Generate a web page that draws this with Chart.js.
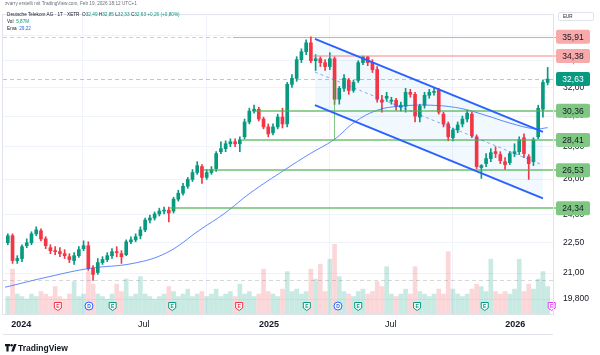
<!DOCTYPE html>
<html><head><meta charset="utf-8">
<script src="https://cdn.jsdelivr.net/npm/chart.js@4"></script>
<style>
html,body{margin:0;padding:0;background:#fff;}
#wrap{position:relative;width:600px;height:355px;overflow:hidden;font-family:"Liberation Sans",Arial,sans-serif;}
canvas{position:absolute;left:0;top:0;}
.t{position:absolute;white-space:nowrap;color:#131722;line-height:1;}
.g{color:#089981;}
</style></head><body>
<div id="wrap">
<canvas id="c" width="600" height="355"></canvas>
<div class="t" style="left:5px;top:2px;font-size:4.7px;color:#6a6d78">zvarry erstellt mit TradingView.com, Feb 19, 2026 18:12 UTC+1</div>
<div class="t" style="left:7px;top:13px;font-size:4.7px">Deutsche Telekom AG · 1T · XETR &nbsp;O<span class="g">32,49</span> H<span class="g">32,85</span> L<span class="g">32,33</span> C<span class="g">32,63</span> <span class="g">+0,26 (+0,80%)</span></div>
<div class="t" style="left:7px;top:20px;font-size:4.7px">Vol &nbsp;<span class="g">5,87M</span></div>
<div class="t" style="left:7px;top:27px;font-size:4.7px">Ema &nbsp;<span style="color:#2962ff">29,22</span></div>
<div class="t" style="left:558px;top:12px;width:36px;height:9px;border:1px solid #e0e3eb;border-radius:2px;font-size:4.5px;color:#131722;padding:2px 0 0 4px;box-sizing:border-box">EUR</div>
<svg style="position:absolute;left:5px;top:344px" width="12" height="8" viewBox="0 0 12 8"><path d="M0 0H5V2.2H3.6V7.5H1.4V2.2H0Z M9 0H11.6L8.8 7.5H6.2Z" fill="#131722"/><circle cx="6.6" cy="1.3" r="1.2" fill="#131722"/></svg>
<div class="t" style="left:18px;top:344px;font-size:8.5px;font-weight:bold;color:#131722">TradingView</div>
</div>
<script>
// ---------- DATA ----------
const firstWeek = '2023-12-11';
const open  = [22.50,22.86,21.61,21.71,22.35,22.50,22.96,23.12,22.70,22.25,22.10,22.05,21.95,21.80,21.61,21.85,22.20,22.35,21.23,21.03,21.51,21.66,21.85,22.05,21.95,21.90,22.55,22.65,22.86,23.17,23.69,23.80,24.02,24.18,24.23,24.18,24.84,25.18,25.58,25.98,26.39,26.75,26.10,26.39,26.63,27.67,27.86,28.17,28.30,28.17,28.62,29.60,30.34,30.47,29.80,29.27,28.88,29.27,29.93,29.47,32.24,32.68,34.10,34.72,35.43,34.02,34.17,33.87,33.57,34.17,31.17,31.95,32.53,31.80,32.53,33.87,34.33,33.87,33.34,31.10,31.24,31.03,31.10,30.61,30.68,31.66,31.52,29.93,30.75,31.45,31.66,31.80,30.13,29.47,28.56,29.07,29.47,29.80,30.13,28.62,26.69,26.93,27.24,27.67,27.49,27.05,26.99,27.55,27.67,28.56,27.36,27.05,28.62,30.47,32.38];
const high  = [22.96,22.96,21.85,22.40,22.70,23.07,23.33,23.22,22.81,22.40,22.30,22.25,22.15,21.95,22.00,22.30,22.60,22.55,21.37,21.71,21.80,22.00,22.20,22.30,22.10,22.65,22.81,22.96,23.33,23.80,23.96,24.13,24.34,24.40,24.40,24.95,25.35,25.75,26.10,26.57,27.05,26.87,26.57,26.75,27.67,28.30,28.36,28.49,28.49,28.62,29.80,30.54,30.75,30.61,29.93,29.47,29.47,30.13,30.54,32.38,32.97,34.33,34.95,35.67,35.91,34.49,34.33,34.10,34.64,34.33,32.09,32.97,32.68,32.53,34.02,34.38,34.36,34.10,33.57,31.45,31.66,31.31,31.24,30.96,31.95,31.88,31.66,30.82,31.66,31.88,32.02,31.95,30.27,29.60,29.20,29.60,30.00,30.40,30.27,28.75,26.87,27.55,27.86,27.98,27.67,27.30,27.67,28.17,28.62,28.81,27.49,28.56,30.75,32.53,33.50];
const low   = [22.40,21.47,21.47,21.56,22.25,22.40,22.86,22.60,22.20,21.95,21.90,21.80,21.71,21.51,21.42,21.76,22.10,21.13,20.66,20.94,21.42,21.56,21.71,21.80,21.47,21.85,22.45,22.55,22.70,23.07,23.54,23.69,23.91,24.02,23.59,24.07,24.73,25.07,25.46,25.86,26.28,25.75,25.98,26.28,26.45,27.55,27.67,27.98,27.98,27.67,28.49,29.47,30.20,29.67,29.14,28.62,28.75,29.14,29.20,29.27,32.02,32.46,33.87,34.49,33.87,33.27,33.57,33.27,33.34,30.80,30.82,31.73,31.52,31.66,32.38,33.72,33.64,33.12,30.96,30.27,31.03,30.82,30.40,30.34,30.27,31.31,29.60,29.60,30.54,31.24,31.45,30.13,29.27,28.36,28.36,28.88,29.27,29.60,28.56,26.63,26.04,26.75,27.05,27.30,26.93,26.57,26.87,27.36,27.49,27.30,25.98,26.81,28.50,29.93,32.20];
const close = [22.86,21.61,21.71,22.30,22.50,22.96,23.17,22.70,22.35,22.10,22.05,21.95,21.85,21.66,21.85,22.15,22.35,21.23,20.94,21.51,21.66,21.85,22.05,22.00,21.80,22.55,22.65,22.81,23.17,23.69,23.80,24.02,24.18,24.23,24.07,24.84,25.18,25.58,25.98,26.39,26.81,26.10,26.39,26.57,27.55,27.86,28.17,28.30,28.17,28.43,29.60,30.34,30.47,29.80,29.27,28.81,29.27,29.93,29.47,32.24,32.68,34.10,34.72,35.43,34.02,34.17,33.87,33.57,34.17,31.17,31.95,32.68,31.80,32.38,33.87,34.33,33.87,33.34,31.17,30.96,31.38,31.10,30.68,30.75,31.66,31.52,30.00,30.68,31.45,31.66,31.73,30.27,29.47,28.62,29.07,29.40,29.80,30.20,28.68,26.75,26.81,27.24,27.61,27.55,27.11,26.87,27.55,27.67,28.43,27.55,26.93,28.43,30.54,32.38,32.63];
const volume = [7,18,8,7,6,8,7,9,8,7,11,7,6,8,13,7,8,17,12,8,7,6,8,12,9,14,7,8,15,8,7,6,7,8,11,9,7,8,10,7,8,9,7,8,10,7,8,9,7,12,8,9,7,8,18,9,8,7,10,17,9,10,8,9,18,14,20,9,22,28,15,9,8,7,9,10,8,9,13,11,19,8,7,8,10,8,19,9,8,7,8,10,8,25,10,8,7,8,10,12,11,9,22,9,8,9,8,10,22,9,12,10,14,17,11];

const emaDates  = ['2023-12-10','2024-02-14','2024-04-13','2024-06-16','2024-08-05','2024-09-23','2024-10-30','2024-12-06','2025-01-27','2025-03-05','2025-04-09','2025-05-10','2025-06-12','2025-07-16','2025-08-29','2025-10-12','2025-11-18','2025-12-25','2026-01-31','2026-02-19'];
const emaValues = [20.34,20.84,21.23,21.47,22.00,23.17,24.07,25.18,26.57,27.55,28.43,29.60,30.40,30.68,30.75,30.54,30.07,29.53,29.14,29.22];

const levelValues = [35.91, 34.38, 30.36, 28.41, 26.53, 24.34];
const levelFrom   = ['2024-11-11','2025-03-08','2024-12-13','2024-11-24','2024-09-28','2024-08-10'];
const levelLabels = ['35,91','34,38','30,36','28,41','26,53','24,34'];
const lastPrice = 32.63, lastLabel = '32,63';
const periodHigh = 35.91, periodLow = 20.66;

const channelDates = ['2025-03-12','2026-02-12'];
const channelUpper = [35.75, 28.94];
const channelLower = [30.75, 24.89];
const markerDate = '2025-04-09', markerRange = [32.63, 28.41];

const eventDates = ['2024-02-26','2024-04-12','2024-05-17','2024-08-13','2024-11-20','2025-02-28','2025-04-15','2025-05-15','2025-08-10','2025-11-18','2026-02-25'];
const eventKinds = ['E','D','E','E','E','E','D','E','E','E','E'];
const eventTones = ['miss','div','beat','beat','miss','beat','div','beat','beat','beat','next'];

const xTickDates  = ['2024-01-03','2024-07-02','2025-01-03','2025-07-02','2026-01-02'];
const xTickLabels = ['2024','Jul','2025','Jul','2026'];
const yTicks      = [19.8, 21, 22.5, 24, 26, 28, 30, 32, 34, 36];
const yTickLabels = ['19,800','21,00','22,50','24,00','26,00','28,00','30,00','32,00','34,00','36,00'];

// ---------- BUILD ----------
const dayOf = s => Math.round((Date.parse(s) - Date.parse('2024-01-01')) / 86400000);
const xs = open.map((_, i) => dayOf(firstWeek) + 7 * i + 3);
const UP = '#089981', DOWN = '#f23645';
const isUp = open.map((o, i) => close[i] >= o);
const candleCol = isUp.map(u => u ? UP : DOWN);
const volCol = isUp.map(u => u ? 'rgba(8,153,129,0.22)' : 'rgba(242,54,69,0.2)');
const FONT = '"Liberation Sans", Arial, sans-serif';
Chart.defaults.font.family = FONT;

const drawings = {
  id: 'drawings',
  beforeDatasetsDraw(chart) {
    const {ctx, chartArea: a, scales: {x, y}} = chart;
    ctx.save();
    ctx.beginPath(); ctx.rect(a.left, a.top, a.right - a.left, a.bottom - a.top); ctx.clip();
    const x1 = x.getPixelForValue(dayOf(channelDates[0])), x2 = x.getPixelForValue(dayOf(channelDates[1]));
    ctx.fillStyle = 'rgba(33,150,243,0.06)';
    ctx.beginPath();
    ctx.moveTo(x1, y.getPixelForValue(channelUpper[0]));
    ctx.lineTo(x2, y.getPixelForValue(channelUpper[1]));
    ctx.lineTo(x2, y.getPixelForValue(channelLower[1]));
    ctx.lineTo(x1, y.getPixelForValue(channelLower[0]));
    ctx.closePath(); ctx.fill();
    ctx.restore();
  },
  afterDatasetsDraw(chart) {
    const {ctx, chartArea: a, scales: {x, y}} = chart;
    ctx.save();
    ctx.beginPath(); ctx.rect(a.left, a.top, a.right - a.left + 4, a.bottom - a.top); ctx.clip();
    const hline = (v, from, to, color, w, dash) => {
      const py = Math.round(y.getPixelForValue(v)) + (w % 2 ? 0.5 : 0);
      ctx.strokeStyle = color; ctx.lineWidth = w; ctx.setLineDash(dash || []);
      ctx.beginPath(); ctx.moveTo(from, py); ctx.lineTo(to, py); ctx.stroke();
    };
    const redStart = x.getPixelForValue(dayOf(levelFrom[0]));
    hline(periodHigh, a.left, redStart, 'rgba(120,123,134,0.35)', 1, [4, 3]);
    hline(periodLow, a.left, a.right, 'rgba(120,123,134,0.3)', 1, [4, 3]);
    hline(lastPrice, a.left, a.right + 3, 'rgba(8,153,129,0.4)', 1, [4, 3]);
    levelValues.forEach((v, i) => {
      const from = x.getPixelForValue(dayOf(levelFrom[i]));
      if (i === 0) hline(v, from, a.right + 3, 'rgba(242,54,69,0.5)', 1);
      else if (i === 1) hline(v, from, a.right + 3, 'rgba(247,130,130,0.5)', 2);
      else hline(v, from, a.right + 3, 'rgba(76,175,80,0.6)', 2);
    });
    const mx = Math.round(x.getPixelForValue(dayOf(markerDate))) + 0.5;
    ctx.setLineDash([]); ctx.strokeStyle = 'rgba(76,175,80,0.7)'; ctx.lineWidth = 1;
    ctx.beginPath(); ctx.moveTo(mx, y.getPixelForValue(markerRange[0])); ctx.lineTo(mx, y.getPixelForValue(markerRange[1])); ctx.stroke();
    const x1 = x.getPixelForValue(dayOf(channelDates[0])), x2 = x.getPixelForValue(dayOf(channelDates[1]));
    const u1 = y.getPixelForValue(channelUpper[0]), u2 = y.getPixelForValue(channelUpper[1]);
    const l1 = y.getPixelForValue(channelLower[0]), l2 = y.getPixelForValue(channelLower[1]);
    ctx.strokeStyle = '#2962ff'; ctx.lineWidth = 2;
    ctx.beginPath(); ctx.moveTo(x1, u1); ctx.lineTo(x2, u2); ctx.stroke();
    ctx.beginPath(); ctx.moveTo(x1, l1); ctx.lineTo(x2, l2); ctx.stroke();
    ctx.strokeStyle = 'rgba(41,98,255,0.55)'; ctx.lineWidth = 1; ctx.setLineDash([3, 3]);
    ctx.beginPath(); ctx.moveTo(x1, (u1 + l1) / 2); ctx.lineTo(x2, (u2 + l2) / 2); ctx.stroke();
    ctx.setLineDash([]);
    ctx.restore();
    ctx.save();
    const ey = a.bottom - 8;
    eventDates.forEach((d, i) => {
      const ex = x.getPixelForValue(dayOf(d));
      const tone = eventTones[i];
      const col = tone === 'miss' ? '#f23645' : tone === 'beat' ? '#089981' : tone === 'div' ? '#2962ff' : '#e040fb';
      ctx.lineWidth = 1; ctx.strokeStyle = col; ctx.fillStyle = '#fff';
      ctx.beginPath();
      if (eventKinds[i] === 'D') {
        ctx.arc(ex, ey, 4, 0, Math.PI * 2);
      } else {
        ctx.moveTo(ex - 3.5, ey - 3.5); ctx.lineTo(ex + 3.5, ey - 3.5); ctx.lineTo(ex + 3.5, ey + 2);
        ctx.lineTo(ex, ey + 4.5); ctx.lineTo(ex - 3.5, ey + 2); ctx.closePath();
      }
      ctx.fill(); ctx.stroke();
      ctx.fillStyle = col; ctx.font = 'bold 5px ' + FONT; ctx.textAlign = 'center'; ctx.textBaseline = 'middle';
      ctx.fillText(eventKinds[i], ex, ey + 0.3);
    });
    ctx.restore();
  },
  afterDraw(chart) {
    const {ctx, chartArea: a, scales: {y}} = chart;
    ctx.save();
    ctx.strokeStyle = '#e0e3eb'; ctx.lineWidth = 1;
    ctx.strokeRect(a.left - 0.5, a.top - 0.5, a.right - a.left + 1, a.bottom - a.top + 1);
    ctx.beginPath(); ctx.moveTo(a.left, 334.5); ctx.lineTo(a.right, 334.5); ctx.stroke();
    const box = (v, text, bg, fg) => {
      const py = y.getPixelForValue(v);
      ctx.fillStyle = bg;
      ctx.beginPath(); ctx.roundRect(556, py - 7, 34, 14, 2); ctx.fill();
      ctx.fillStyle = fg; ctx.font = '8.5px ' + FONT; ctx.textAlign = 'center'; ctx.textBaseline = 'middle';
      ctx.fillText(text, 573, py + 0.5);
    };
    levelValues.forEach((v, i) => {
      const bg = i < 2 ? '#f8a9a9' : '#81c784';
      box(v, levelLabels[i], bg, '#131722');
    });
    box(lastPrice, lastLabel, '#089981', '#ffffff');
    ctx.restore();
  }
};

new Chart(document.getElementById('c'), {
  type: 'bar',
  data: {
    datasets: [
      {type: 'line', label: 'EMA', data: emaDates.map((d, i) => ({x: dayOf(d), y: emaValues[i]})),
        borderColor: 'rgba(41,98,255,0.75)', borderWidth: 1, pointRadius: 0, tension: 0.4, yAxisID: 'y', order: 1},
      {label: 'body', data: xs.map((x, i) => ({x, y: [open[i], close[i]]})), backgroundColor: candleCol,
        barThickness: 3, minBarLength: 1, grouped: false, yAxisID: 'y', order: 2},
      {label: 'wick', data: xs.map((x, i) => ({x, y: [low[i], high[i]]})), backgroundColor: candleCol,
        barThickness: 1, grouped: false, yAxisID: 'y', order: 3},
      {label: 'Vol', data: xs.map((x, i) => ({x, y: volume[i]})), backgroundColor: volCol,
        barThickness: 4, grouped: false, yAxisID: 'yv', order: 4}
    ]
  },
  options: {
    responsive: false, animation: false, devicePixelRatio: 1,
    layout: {padding: {left: 3, top: 12, right: 0, bottom: 21}},
    plugins: {legend: {display: false}, tooltip: {enabled: false}},
    scales: {
      x: {type: 'linear', min: -25.1, max: 787.9, offset: false,
        afterBuildTicks: s => { s.ticks = xTickDates.map(d => ({value: dayOf(d)})); },
        afterFit: s => { s.height = 20; },
        grid: {color: '#f0f3fa', drawTicks: false},
        border: {display: false},
        ticks: {autoSkip: false, maxRotation: 0, padding: 5, color: '#131722',
          font: c => ({size: 9, weight: (c.index % 2 === 0) ? 'bold' : 'normal'}),
          callback: (v, i) => xTickLabels[i]}
      },
      y: {type: 'logarithmic', position: 'right', min: 19.14, max: 37.73,
        afterBuildTicks: s => { s.ticks = yTicks.map(v => ({value: v})); },
        afterFit: s => { s.width = 47; },
        grid: {color: '#f0f3fa', drawTicks: false},
        border: {display: false},
        ticks: {autoSkip: false, padding: 10, color: '#131722', font: {size: 8.5},
          callback: (v, i) => yTickLabels[i]}
      },
      yv: {type: 'linear', display: false, min: 0, max: 120, position: 'left'}
    }
  },
  plugins: [drawings]
});
</script>
</body></html>
